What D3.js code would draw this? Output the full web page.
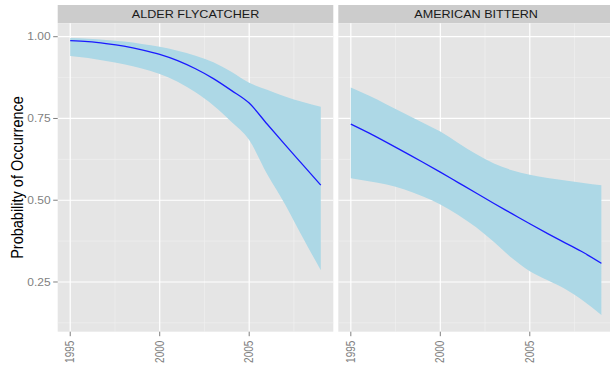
<!DOCTYPE html>
<html lang="en">
<head>
<meta charset="UTF-8">
<title>Probability of Occurrence</title>
<script src="https://cdn.jsdelivr.net/npm/d3@7"></script>
<style>
  body { margin: 0; background: #fff; }
  svg text { font-family: "Liberation Sans", Arial, sans-serif; }
</style>
</head>
<body>
<div id="chart"></div>
<script>
// data
var years = [1995, 1996, 1997, 1998, 1999, 2000, 2001, 2002, 2003, 2004, 2005, 2006, 2007, 2008, 2009];
var species = ["ALDER FLYCATCHER", "AMERICAN BITTERN"];

var alderFit   = [0.988, 0.985, 0.979, 0.971, 0.960, 0.946, 0.927, 0.902, 0.872, 0.836, 0.797, 0.733, 0.670, 0.608, 0.546];
var alderUpper = [0.996, 0.994, 0.990, 0.985, 0.978, 0.969, 0.957, 0.942, 0.922, 0.893, 0.859, 0.838, 0.817, 0.800, 0.786];
var alderLower = [0.941, 0.935, 0.926, 0.916, 0.903, 0.886, 0.862, 0.830, 0.790, 0.740, 0.684, 0.580, 0.488, 0.385, 0.286];

var bitternFit   = [0.733, 0.706, 0.677, 0.647, 0.617, 0.586, 0.554, 0.522, 0.490, 0.459, 0.428, 0.398, 0.369, 0.340, 0.307];
var bitternUpper = [0.845, 0.820, 0.793, 0.765, 0.738, 0.710, 0.675, 0.641, 0.612, 0.592, 0.578, 0.568, 0.560, 0.553, 0.546];
var bitternLower = [0.567, 0.558, 0.548, 0.533, 0.512, 0.487, 0.455, 0.417, 0.372, 0.323, 0.283, 0.255, 0.228, 0.192, 0.149];

var xTicks = [1995, 2000, 2005];
var xMinor = [1997.5, 2002.5, 2007.5];
var yTicks = [0.25, 0.50, 0.75, 1.00];
var yMinor = [0.125, 0.375, 0.625, 0.875];

var fits = [alderFit, bitternFit];
var uppers = [alderUpper, bitternUpper];
var lowers = [alderLower, bitternLower];

var width = 610, height = 369;
var panelTop = 23.3, panelBottom = 331.7, stripTop = 5;
var panelLefts = [57.7, 338.3], panelW = 275.6;
var stretch = 1.2; // text in the picture is a bit wider than tall

var svg = d3.select("#chart").append("svg")
    .attr("width", width)
    .attr("height", height);

var y = d3.scaleLinear().domain([0.098, 1.041]).range([panelBottom, panelTop]);

species.forEach(function(name, i) {
    var x = d3.scaleLinear().domain([1994.3, 2009.7]).range([panelLefts[i], panelLefts[i] + panelW]);
    var g = svg.append("g");

    // strip
    g.append("rect")
        .attr("x", panelLefts[i]).attr("y", stripTop)
        .attr("width", panelW).attr("height", panelTop - stripTop)
        .attr("fill", "#cccccc");
    g.append("text")
        .attr("transform", "translate(" + (panelLefts[i] + panelW / 2) + "," + ((stripTop + panelTop) / 2 + 3.8) + ") scale(" + stretch + ",1)")
        .attr("text-anchor", "middle")
        .attr("font-size", 10.5)
        .attr("fill", "#1a1a1a")
        .text(name);

    // panel background
    g.append("rect")
        .attr("x", panelLefts[i]).attr("y", panelTop)
        .attr("width", panelW).attr("height", panelBottom - panelTop)
        .attr("fill", "#e5e5e5");

    // grid
    g.selectAll(".ymin").data(yMinor).join("line")
        .attr("x1", panelLefts[i]).attr("x2", panelLefts[i] + panelW)
        .attr("y1", d => y(d)).attr("y2", d => y(d))
        .attr("stroke", "#f2f2f2").attr("stroke-width", 0.6);
    g.selectAll(".xmin").data(xMinor).join("line")
        .attr("x1", d => x(d)).attr("x2", d => x(d))
        .attr("y1", panelTop).attr("y2", panelBottom)
        .attr("stroke", "#f2f2f2").attr("stroke-width", 0.6);
    g.selectAll(".ymaj").data(yTicks).join("line")
        .attr("x1", panelLefts[i]).attr("x2", panelLefts[i] + panelW)
        .attr("y1", d => y(d)).attr("y2", d => y(d))
        .attr("stroke", "#ffffff").attr("stroke-width", 1.2);
    g.selectAll(".xmaj").data(xTicks).join("line")
        .attr("x1", d => x(d)).attr("x2", d => x(d))
        .attr("y1", panelTop).attr("y2", panelBottom)
        .attr("stroke", "#ffffff").attr("stroke-width", 1.2);

    // ribbon + fitted line
    var pts = years.map((yr, k) => ({yr: yr, fit: fits[i][k], hi: uppers[i][k], lo: lowers[i][k]}));
    g.append("path").datum(pts)
        .attr("fill", "#add8e6")
        .attr("d", d3.area().curve(d3.curveMonotoneX)
            .x(d => x(d.yr)).y0(d => y(d.lo)).y1(d => y(d.hi)));
    g.append("path").datum(pts)
        .attr("fill", "none")
        .attr("stroke", "#1a1aff")
        .attr("stroke-width", 1.3)
        .attr("d", d3.line().curve(d3.curveMonotoneX)
            .x(d => x(d.yr)).y(d => y(d.fit)));

    // x axis
    g.selectAll(".xtick").data(xTicks).join("line")
        .attr("x1", d => x(d)).attr("x2", d => x(d))
        .attr("y1", panelBottom).attr("y2", panelBottom + 4.5)
        .attr("stroke", "#7f7f7f").attr("stroke-width", 1);
    g.selectAll(".xlab").data(xTicks).join("text")
        .attr("transform", d => "translate(" + (x(d) + 4) + "," + (panelBottom + 9) + ") scale(" + stretch + ",1) rotate(-90)")
        .attr("text-anchor", "end")
        .attr("font-size", 10)
        .attr("fill", "#7f7f7f")
        .text(d => d);

    if (i === 0) {
        g.selectAll(".ytick").data(yTicks).join("line")
            .attr("x1", panelLefts[i] - 4.5).attr("x2", panelLefts[i])
            .attr("y1", d => y(d)).attr("y2", d => y(d))
            .attr("stroke", "#7f7f7f").attr("stroke-width", 1);
        g.selectAll(".ylab").data(yTicks).join("text")
            .attr("transform", d => "translate(" + (panelLefts[i] - 7) + "," + (y(d) + 3.6) + ") scale(" + stretch + ",1)")
            .attr("text-anchor", "end")
            .attr("font-size", 10)
            .attr("fill", "#7f7f7f")
            .text(d => d.toFixed(2));
    }
});

// y axis title
svg.append("text")
    .attr("transform", "translate(23," + ((panelTop + panelBottom) / 2) + ") scale(" + stretch + ",1) rotate(-90)")
    .attr("text-anchor", "middle")
    .attr("font-size", 14.5)
    .attr("fill", "#000")
    .text("Probability of Occurrence");
</script>
</body>
</html>
